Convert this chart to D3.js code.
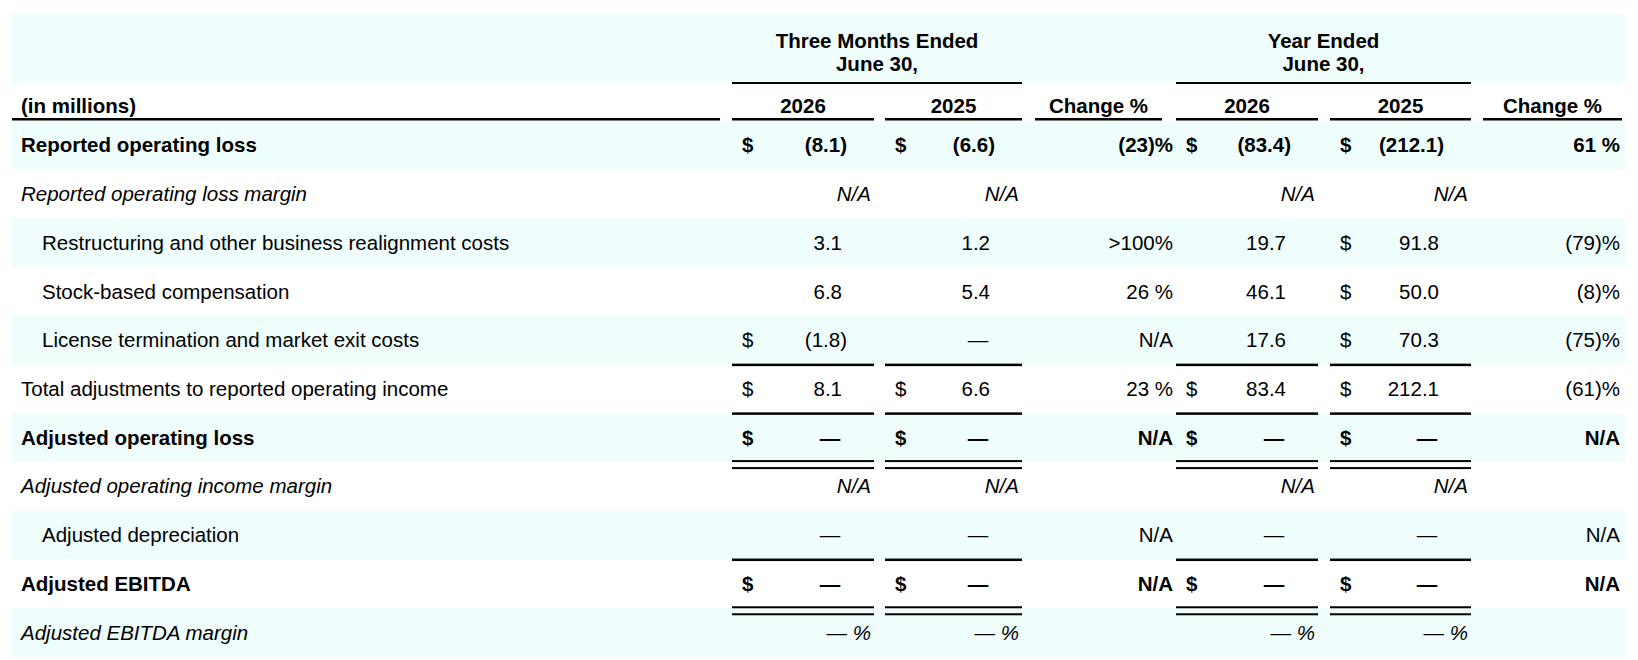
<!DOCTYPE html>
<html><head><meta charset="utf-8">
<script src="https://cdn.jsdelivr.net/npm/d3@7"></script>
<style>body{margin:0;background:#fff}svg{display:block;font-family:"Liberation Sans",Arial,sans-serif}</style>
</head><body><svg id="c" width="1638" height="660"></svg>
<script>
const rowLabels = ["Reported operating loss","Reported operating loss margin","Restructuring and other business realignment costs","Stock-based compensation","License termination and market exit costs","Total adjustments to reported operating income","Adjusted operating loss","Adjusted operating income margin","Adjusted depreciation","Adjusted EBITDA","Adjusted EBITDA margin"];
const rowTypes = ["bold","italic","indent","indent","indent","plain","bold","italic","indent","bold","italic"];
const groupHeaders = [["Three Months Ended","June 30,"],["Year Ended","June 30,"]];
const colHeaders = ["2026","2025","Change %","2026","2025","Change %"];
const q2026 = ["(8.1)","N/A","3.1","6.8","(1.8)","8.1","—","N/A","—","—","— %"];
const q2025 = ["(6.6)","N/A","1.2","5.4","—","6.6","—","N/A","—","—","— %"];
const qChange = ["(23)%","","\u003e100%","26 %","N/A","23 %","N/A","","N/A","N/A",""];
const y2026 = ["(83.4)","N/A","19.7","46.1","17.6","83.4","—","N/A","—","—","— %"];
const y2025 = ["(212.1)","N/A","91.8","50.0","70.3","212.1","—","N/A","—","—","— %"];
const yChange = ["61 %","","(79)%","(8)%","(75)%","(61)%","N/A","","N/A","N/A",""];
const q2026Dollar = [1,0,0,0,1,1,1,0,0,1,0];
const q2025Dollar = [1,0,0,0,0,1,1,0,0,1,0];
const y2026Dollar = [1,0,0,0,0,1,1,0,0,1,0];
const y2025Dollar = [1,0,1,1,1,1,1,0,0,1,0];
const underSingle = [4,5,8];   // rows followed by single rule
const underDouble = [6,9];     // rows followed by double rule

const svg = d3.select("#c");
const FS = 20.5;
const cols = [
 {x0:732,x1:874,vals:q2026,dol:q2026Dollar,num:true},
 {x0:885,x1:1022,vals:q2025,dol:q2025Dollar,num:true},
 {x0:1035,x1:1162,vals:qChange,num:false,right:1173},
 {x0:1176,x1:1318,vals:y2026,dol:y2026Dollar,num:true},
 {x0:1330,x1:1471,vals:y2025,dol:y2025Dollar,num:true},
 {x0:1483,x1:1622,vals:yChange,num:false,right:1620}
];
const y = d3.scaleBand().domain(d3.range(rowLabels.length)).range([121,657]);
const bg = "#effdfd";
// backgrounds
svg.append("rect").attr("x",12).attr("y",14).attr("width",1613).attr("height",69).attr("fill",bg);
svg.selectAll("rect.row").data(rowLabels).join("rect").attr("class","row")
 .attr("x",12).attr("width",1613).attr("y",(d,i)=>y(i)).attr("height",y.bandwidth())
 .attr("fill",(d,i)=>i%2===0?bg:"#fff");
// group headers
[[cols[0],cols[1]],[cols[3],cols[4]]].forEach((g,gi)=>{
  const cx=(g[0].x0+g[1].x1)/2;
  groupHeaders[gi].forEach((t,li)=>svg.append("text").attr("x",cx).attr("y",48+li*23).attr("text-anchor","middle")
    .attr("font-weight","bold").attr("font-size",FS).text(t));
  svg.append("rect").attr("x",g[0].x0).attr("width",g[1].x1-g[0].x0).attr("y",82).attr("height",2).attr("fill","#000");
});
svg.append("text").attr("x",21).attr("y",113).attr("font-weight","bold").attr("font-size",FS).text("(in millions)");
svg.append("rect").attr("x",12).attr("width",708).attr("y",118).attr("height",2.5).attr("fill","#000");
cols.forEach((c,i)=>{
  svg.append("text").attr("x",(c.x0+c.x1)/2).attr("y",113).attr("text-anchor","middle")
   .attr("font-weight","bold").attr("font-size",FS).text(colHeaders[i]);
  svg.append("rect").attr("x",c.x0).attr("width",c.x1-c.x0).attr("y",118).attr("height",2.5).attr("fill","#000");
});
// row labels
const base = i=>y(i)+y.bandwidth()/2+7;
svg.selectAll("text.lab").data(rowLabels).join("text").attr("class","lab")
 .attr("x",(d,i)=>rowTypes[i]==="indent"?42:21).attr("y",(d,i)=>base(i)).attr("font-size",FS)
 .attr("font-weight",(d,i)=>rowTypes[i]==="bold"?"bold":"normal")
 .attr("font-style",(d,i)=>rowTypes[i]==="italic"?"italic":"normal").text(d=>d);
// cells
cols.forEach(c=>{
  c.vals.forEach((v,i)=>{
    const t=rowTypes[i];
    const fw=t==="bold"?"bold":"normal", fst=t==="italic"?"italic":"normal";
    if(c.dol && c.dol[i]) svg.append("text").attr("x",c.x0+10).attr("y",base(i)).attr("font-size",FS).attr("font-weight",fw).text("$");
    if(!v) return;
    let x, anchor="end";
    if(!c.num) x=c.right;
    else if(v==="N/A"||v==="— %") x=c.x1-3;
    else if(v==="—"){x=c.x1-44;anchor="middle";}
    else if(v.startsWith("(")) x=c.x1-27;
    else x=c.x1-32;
    svg.append("text").attr("x",x).attr("y",base(i)).attr("text-anchor",anchor).attr("font-size",FS)
      .attr("font-weight",fw).attr("font-style",fst).text(v);
  });
});
// rules
const ruleCols=[0,1,3,4];
underSingle.forEach(r=>ruleCols.forEach(ci=>{const c=cols[ci];
  svg.append("rect").attr("x",c.x0).attr("width",c.x1-c.x0).attr("y",y(r)+y.bandwidth()-1).attr("height",2.5).attr("fill","#000");}));
underDouble.forEach(r=>ruleCols.forEach(ci=>{const c=cols[ci];
  [-2,5].forEach(o=>svg.append("rect").attr("x",c.x0).attr("width",c.x1-c.x0).attr("y",y(r)+y.bandwidth()+o).attr("height",2).attr("fill","#000"));}));
</script></body></html>
